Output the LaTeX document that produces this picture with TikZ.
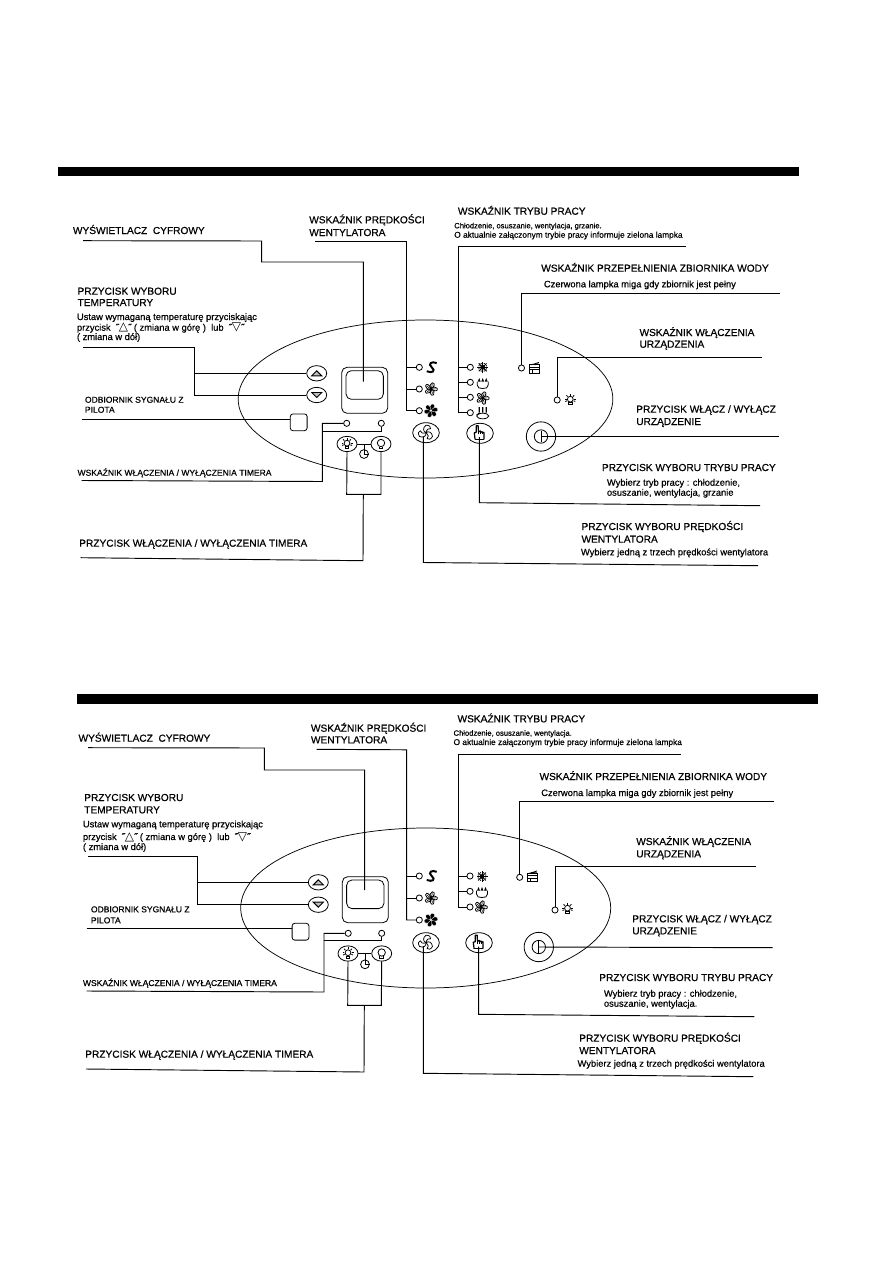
\documentclass[tikz,border=0pt]{standalone}
\usetikzlibrary{shapes.geometric}
\usepackage{fontspec}
\setmainfont{Liberation Sans}[FakeBold=0.5]
\newfontfamily\symf{DejaVu Sans}
\newcommand{\tup}{{\symf\fontsize{9pt}{9pt}\selectfont △}}
\newcommand{\tdn}{{\symf\fontsize{9pt}{9pt}\selectfont ▽}}
\tikzset{
  lg/.style={anchor=base west,inner sep=0pt,font=\fontsize{7.6pt}{9pt}\selectfont},
  md/.style={anchor=base west,inner sep=0pt,font=\fontsize{6.4pt}{8pt}\selectfont},
  sm/.style={anchor=base west,inner sep=0pt,font=\fontsize{7pt}{8pt}\selectfont},
  ti/.style={anchor=base west,inner sep=0pt,font=\fontsize{6.25pt}{7pt}\selectfont},
  tb/.style={anchor=base west,inner sep=0pt,font=\fontsize{5.7pt}{7pt}\selectfont},
  wire/.style={line width=0.7pt,line join=miter},
  led/.style={circle,draw,line width=0.6pt,inner sep=0pt,minimum size=4.6pt},
  btn/.style={ellipse,draw,line width=0.6pt,inner sep=0pt,minimum width=15pt,minimum height=11.5pt},
  bigbtn/.style={ellipse,draw,line width=0.6pt,inner sep=0pt,minimum width=20pt,minimum height=15pt},
  panel/.style={ellipse,draw,line width=0.55pt,inner sep=0pt},
  bar/.style={fill=black,inner sep=0pt},
  screen/.style={rectangle,draw,line width=0.6pt,rounded corners=4pt,inner sep=0pt},
  pw/.style={circle,draw,line width=0.6pt,inner sep=0pt,minimum size=22pt},
  pwin/.style={circle,draw,line width=0.6pt,inner sep=0pt,minimum size=10pt},
  clock/.style={circle,draw,line width=0.6pt,inner sep=0pt,minimum size=6.6pt},
  fanAico/.pic={
    \draw[line width=1.5pt] (5,-4.2) .. controls (0,-6.5) and (-4.2,-3.5) .. (0,0)
       .. controls (4.2,3.5) and (1,6.2) .. (-5,4);
  },
  fanBico/.pic={
    \foreach \a in {0,72,144,216,288}{
      \draw[line width=0.6pt,rotate=\a,scale=0.88] (0,0) .. controls (-1.8,-3) and (-1.2,-6.5) .. (1.5,-7)
        .. controls (4.8,-7) and (4.5,-3) .. cycle;
      \draw[line width=0.45pt,rotate=\a,scale=0.88] (0.3,-1) -- (1.6,-5.2);
    }
  },
  fanCico/.pic={
    \foreach \a in {0,60,120,180,240,300}{
      \filldraw[fill=black,draw=white,line width=0.2pt,rotate=\a,scale=0.92] (0,0) .. controls (-2,-3) and (-1.2,-7) .. (1.5,-7.3)
        .. controls (5,-7.3) and (4.8,-3) .. cycle;
    }
    \fill[white] (0,0) circle (0.8);
  },
  snowico/.pic={
    \foreach \a in {0,45,90,135}{\draw[line width=0.75pt,rotate=\a] (-5.5,0) -- (5.5,0);}
    \fill (0,0) circle (2.4);
    \foreach \a in {22,67,112,157,202,247,292,337}{\fill[rotate=\a] (4,0) circle (0.7);}
  },
  dropico/.pic={
    \draw[line width=0.6pt] (-5.5,-1.5) -- (-5.5,2) .. controls (-5.5,5) and (-3,5.5) .. (0,5.5)
      .. controls (3,5.5) and (5.5,5) .. (5.5,2) -- (5.5,-1.5);
    \foreach \d in {-3.5,0,3.5}{\fill (\d-1.4,-1.5) -- (\d,-5) -- (\d+1.4,-1.5) -- cycle;}
  },
  heatico/.pic={
    \foreach \d in {-3.5,0,3.5}{
      \draw[line width=0.85pt] (\d,-6) .. controls (\d+1.5,-4.5) and (\d-1.5,-3) .. (\d,-0.5);}
    \draw[line width=0.6pt] (0,3) ellipse (6 and 2.8);
    \draw[line width=0.6pt] (-6,2) .. controls (-4,0) .. (-3,1);
  },
  tankico/.pic={
    \draw[line width=0.65pt] (-5,-3.2) rectangle (5,5);
    \draw[line width=0.6pt] (-5,-0.8) -- (5,-0.8) (-5,1.8) -- (5,1.8);
    \draw[line width=0.6pt] (-2,1.8) -- (-2,5);
    \draw[line width=0.6pt] (-3,-3.2) .. controls (0,-3.6) and (2,-4.8) .. (5,-5.6)
      (0,-3.2) .. controls (2,-3.6) and (3,-4) .. (5,-3.8);
  },
  bulbico/.pic={
    \draw[line width=0.6pt] (0,-0.8) circle (2.9);
    \draw[line width=0.7pt] (-1.7,2.6) -- (1.7,2.6) -- (1.7,4.8) -- (-1.7,4.8) -- cycle;
    \foreach \a in {-90,-45,0,180,225,25,155}{
      \draw[line width=0.6pt] (0,-0.8) ++(\a:3.7) -- ++(\a:1.8);}
  },
  plainbulb/.pic={
    \draw[line width=0.6pt] (0,-1) circle (3.7);
    \draw[line width=0.7pt] (-1.8,2.6) -- (-1.8,4.6) -- (1.8,4.6) -- (1.8,2.6);
  },
  uptri/.pic={
    \draw[line width=0.7pt,fill=black!25] (-5,2.5) -- (0,-2.5) -- (5,2.5) -- cycle;
  },
  dntri/.pic={
    \draw[line width=0.7pt,fill=black!25] (-5,-2.5) -- (5,-2.5) -- (0,2.5) -- cycle;
  },
  swirl/.pic={
    \foreach \a in {0,120,240}{
      \draw[line width=0.55pt,rotate=\a] (0,0) .. controls (-3,-1) and (-3.5,-5) .. (0,-7.5)
        .. controls (3.5,-7.5) and (5,-6) .. (4.5,-4) .. controls (2.5,-5) and (0.5,-3) .. (0,0);
    }
  },
  handico/.pic={
    \begin{scope}[xscale=1.3,xshift=-1.2]
    \draw[line width=0.9pt,line join=round] (-2.2,6) -- (-2.8,-0.5) -- (-1.3,-1) -- (-1.3,-7.5)
       -- (0.2,-7.5) -- (0.4,-1.5) -- (1.8,-2.3) -- (2,-1) -- (3.2,-1.7) -- (3.4,-0.5) -- (4.6,-1) -- (4.7,6);
    \draw[line width=0.6pt] (0.4,-1.5) -- (0.4,1) (2,-1) -- (2,1) (3.4,-0.5) -- (3.4,1);
    \draw[line width=0.8pt] (-2.2,6) -- (4.7,6);
    \end{scope}
  },
}
\begin{document}
\begin{tikzpicture}[x=0.75pt,y=-0.75pt]
\useasboundingbox (0,0) rectangle (893,1263);

% ===== Panel 1 =====
\node[bar,minimum width=555.75pt,minimum height=7pt] (aBar) at (428.5,171.5) {};
\node[panel,minimum width=281pt,minimum height=118.5pt] (aEll) at (425.5,399) {};

\node[lg] (aT1) at (72.7,234) {WYŚWIETLACZ\ \ CYFROWY};
\node[lg] (aT2) at (309,223.3) {WSKAŹNIK PRĘDKOŚCI};
\node[lg] (aT3) at (309,236) {WENTYLATORA};
\node[lg] (aT4) at (457.7,214.7) {WSKAŹNIK TRYBU PRACY};
\node[tb] (aT5) at (454,228.3) {Chłodzenie, osuszanie, wentylacja, grzanie.};
\node[ti] (aT6) at (454,237.7) {O aktualnie załączonym trybie pracy informuje zielona lampka};
\node[lg] (aT7) at (541,271.7) {WSKAŹNIK PRZEPEŁNIENIA ZBIORNIKA WODY};
\node[sm] (aT8) at (543.7,287.3) {Czerwona lampka miga gdy zbiornik jest pełny};
\node[lg] (aT9) at (639.3,336) {WSKAŹNIK WŁĄCZENIA};
\node[lg] (aT10) at (639.3,347.7) {URZĄDZENIA};
\node[lg] (aT11) at (77.3,294.7) {PRZYCISK WYBORU};
\node[lg] (aT12) at (77.3,306) {TEMPERATURY};
\node[sm] (aT13) at (76.7,320) {Ustaw wymaganą temperaturę przyciskając};
\node[sm] (aT14) at (76.7,330.7) {przycisk\ \ ˝\tup˝ ( zmiana w górę )\ \ lub\ \ ˝\tdn˝};
\node[sm] (aT15) at (76.7,340) {( zmiana w dół)};
\node[md] (aT16) at (84.7,402.7) {ODBIORNIK SYGNAŁU Z};
\node[md] (aT17) at (84.7,412.7) {PILOTA};
\node[md] (aT18) at (77.3,475.7) {WSKAŹNIK WŁĄCZENIA / WYŁĄCZENIA TIMERA};
\node[lg] (aT19) at (79,546.7) {PRZYCISK WŁĄCZENIA / WYŁĄCZENIA TIMERA};
\node[lg] (aT20) at (636,412.7) {PRZYCISK WŁĄCZ / WYŁĄCZ};
\node[lg] (aT21) at (636,425) {URZĄDZENIE};
\node[lg] (aT22) at (601.7,471) {PRZYCISK WYBORU TRYBU PRACY};
\node[sm] (aT23) at (606.7,485.7) {Wybierz tryb pracy : chłodzenie,};
\node[sm] (aT24) at (606.7,495.7) {osuszanie, wentylacja, grzanie};
\node[lg] (aT25) at (581.3,530) {PRZYCISK WYBORU PRĘDKOŚCI};
\node[lg] (aT26) at (581.3,542.7) {WENTYLATORA};
\node[sm] (aT27) at (580.7,555.3) {Wybierz jedną z trzech prędkości wentylatora};

\node[btn] (aUp) at (316.7,373.3) {};
\node[btn] (aDn) at (316.7,395) {};
\pic at (316.7,373.3) {uptri};
\pic at (316.7,395) {dntri};
\node[screen,minimum size=34.5pt] (aDisp) at (364.7,390.3) {};
\node[screen,minimum width=28pt,minimum height=21.5pt] (aDin) at (364.7,385) {};
\node[rectangle,draw,line width=0.6pt,rounded corners=2pt,inner sep=0pt,minimum size=12.6pt] (aRx) at (298.7,422.3) {};

\node[led] (aS1) at (419.3,367.3) {};
\node[led] (aS2) at (419.3,389) {};
\node[led] (aS3) at (419.3,410.7) {};
\pic at (431.7,367.3) {fanAico};
\pic at (431,389) {fanBico};
\pic at (431,410.7) {fanCico};

\node[led] (aM1) at (470.3,367.3) {};
\node[led] (aM2) at (470.3,382.3) {};
\node[led] (aM3) at (470.3,397.3) {};
\node[led] (aM4) at (470.3,412.7) {};
\pic at (482.7,367.3) {snowico};
\pic at (482.7,383) {dropico};
\pic at (482.7,398) {fanBico};
\pic at (482.7,413) {heatico};

\node[led] (aTank) at (521.5,368) {};
\pic at (534,368) {tankico};
\node[led] (aPL) at (557.2,400) {};
\pic at (570.3,400) {bulbico};

\node[led] (aL1) at (346.7,423.3) {};
\node[led] (aL2) at (381.3,423.3) {};
\node[btn] (aB1) at (347,444) {};
\node[btn] (aB2) at (381,444) {};
\pic at (347,444) {bulbico};
\pic at (381,444) {plainbulb};
\node[clock] (aCl) at (364,454) {};
\draw[line width=0.6pt] (aCl.center) -- (aCl.east) (aCl.center) -- (aCl.north);
\coordinate (aClTop) at (aB1.east -| aCl.north);

\node[bigbtn] (aFan) at (426,432.7) {};
\pic at (426,432.7) {swirl};
\node[bigbtn] (aMode) at (480,433.3) {};
\pic at (480,433.3) {handico};
\node[pw] (aP) at (541,436.5) {};
\node[pwin] (aPin) at (541,436.5) {};
\draw[line width=0.6pt] ([yshift=-4.2pt]aP.center) -- ([yshift=4.2pt]aP.center);

\coordinate (aW1a) at (83,240.7);  \coordinate (aW1b) at (261.7,241);
\coordinate (aW1c) at (261.7,262); \coordinate (aW1d) at (363.3,262);
\coordinate (aW1e) at (363.3,381.7);
\draw[wire] (aW1a) -- (aW1b) -- (aW1c) -- (aW1d) -- (aW1e);
\coordinate (aW2a) at (315,241); \coordinate (aW2b) at (406.7,241);
\draw[wire] (aW2a) -- (aW2b) |- (aS3.west);
\draw[wire] (aS1.west) -- (aS1.west -| aW2b);
\draw[wire] (aS2.west) -- (aS2.west -| aW2b);
\coordinate (aW3a) at (685.7,246.7); \coordinate (aW3b) at (458,246.7);
\draw[wire] (aW3a) -- (aW3b) |- (aM4.west);
\draw[wire] (aM1.west) -- (aM1.west -| aW3b);
\draw[wire] (aM2.west) -- (aM2.west -| aW3b);
\draw[wire] (aM3.west) -- (aM3.west -| aW3b);
\coordinate (aW4a) at (780,293); \coordinate (aW4b) at (aTank.north |- aW4a);
\draw[wire] (aW4a) -- (aW4b) -- (aTank.north);
\coordinate (aW5a) at (761.7,357); \coordinate (aW5b) at (aPL.north |- aW5a);
\draw[wire] (aW5a) -- (aW5b) -- (aPL.north);
\coordinate (aW6a) at (83,347.7); \coordinate (aW6b) at (194.3,347.7);
\draw[wire] (aW6a) -- (aW6b) |- (aDn.west);
\draw[wire] (aUp.west) -- (aUp.west -| aW6b);
\coordinate (aW7a) at (81.7,419);
\draw[wire] (aW7a) -- (aRx.west |- aW7a);
\coordinate (aW8a) at (81.7,480.5); \coordinate (aW8b) at (322.3,481.5);
\draw[wire] (aW8a) -- (aW8b) |- (aL1.west);
\coordinate (aW8c) at (322.3,431);
\draw[wire] (aW8c) -| (aL2.south);
\coordinate (aW9a) at (346.7,494.3); \coordinate (aW9b) at (381,494.3);
\draw[wire] (aB1.south) -- (aW9a) -- (aW9b) -- (aB2.south);
\coordinate (aW9c) at (363.3,494.3); \coordinate (aW9d) at (363,560.7); \coordinate (aW9e) at (80.7,557.7);
\draw[wire] (aW9c) -- (aW9d) -- (aW9e);
\draw[wire] (aB1.east) -- (aB2.west);
\draw[wire] (aClTop) -- (aCl.north);
\coordinate (aW10a) at (423.3,436.5); \coordinate (aW10b) at (423.3,562.5); \coordinate (aW10c) at (758,565.7);
\draw[wire] (aW10a) -- (aW10b) -- (aW10c);
\coordinate (aW11a) at (479.3,437); \coordinate (aW11b) at (479.3,502.7); \coordinate (aW11c) at (760,505.7);
\draw[wire] (aW11a) -- (aW11b) -- (aW11c);
\coordinate (aW12a) at (779,436.5);
\draw[wire] (aP.center) -- (aW12a);

% ===== Panel 2 =====
\node[bar,minimum width=555.75pt,minimum height=7.5pt] (bBar) at (447.5,699) {};
\node[panel,minimum width=277.5pt,minimum height=120pt] (bEll) at (425.7,908) {};

\node[lg] (bT1) at (78.3,741.7) {WYŚWIETLACZ\ \ CYFROWY};
\node[lg] (bT2) at (310.7,731.7) {WSKAŹNIK PRĘDKOŚCI};
\node[lg] (bT3) at (310.7,743.3) {WENTYLATORA};
\node[lg] (bT4) at (457.3,722.3) {WSKAŹNIK TRYBU PRACY};
\node[tb] (bT5) at (453.3,735.7) {Chłodzenie, osuszanie, wentylacja.};
\node[ti] (bT6) at (453.3,745) {O aktualnie załączonym trybie pracy informuje zielona lampka};
\node[lg] (bT7) at (539.3,780) {WSKAŹNIK PRZEPEŁNIENIA ZBIORNIKA WODY};
\node[sm] (bT8) at (541,796) {Czerwona lampka miga gdy zbiornik jest pełny};
\node[lg] (bT9) at (636,845) {WSKAŹNIK WŁĄCZENIA};
\node[lg] (bT10) at (636,857.3) {URZĄDZENIA};
\node[lg] (bT11) at (84,801) {PRZYCISK WYBORU};
\node[lg] (bT12) at (84,813.3) {TEMPERATURY};
\node[sm] (bT13) at (82.7,827.3) {Ustaw wymaganą temperaturę przyciskając};
\node[sm] (bT14) at (82.7,840) {przycisk\ \ ˝\tup˝ ( zmiana w górę )\ \ lub\ \ ˝\tdn˝};
\node[sm] (bT15) at (82.7,850) {( zmiana w dół)};
\node[md] (bT16) at (90.7,912.3) {ODBIORNIK SYGNAŁU Z};
\node[md] (bT17) at (90.7,923.3) {PILOTA};
\node[md] (bT18) at (82.7,986) {WSKAŹNIK WŁĄCZENIA / WYŁĄCZENIA TIMERA};
\node[lg] (bT19) at (85,1057.7) {PRZYCISK WŁĄCZENIA / WYŁĄCZENIA TIMERA};
\node[lg] (bT20) at (632,922.3) {PRZYCISK WŁĄCZ / WYŁĄCZ};
\node[lg] (bT21) at (632,934.3) {URZĄDZENIE};
\node[lg] (bT22) at (599,981) {PRZYCISK WYBORU TRYBU PRACY};
\node[sm] (bT23) at (603.7,996.7) {Wybierz tryb pracy : chłodzenie,};
\node[sm] (bT24) at (603.7,1006.7) {osuszanie, wentylacja.};
\node[lg] (bT25) at (579,1041.7) {PRZYCISK WYBORU PRĘDKOŚCI};
\node[lg] (bT26) at (579,1054) {WENTYLATORA};
\node[sm] (bT27) at (577.3,1066.7) {Wybierz jedną z trzech prędkości wentylatora};

\node[btn] (bUp) at (318.3,882.3) {};
\node[btn] (bDn) at (318.3,904.7) {};
\pic at (318.3,882.3) {uptri};
\pic at (318.3,904.7) {dntri};
\node[screen,minimum size=34.5pt] (bDisp) at (365.3,899.7) {};
\node[screen,minimum width=28pt,minimum height=21.5pt] (bDin) at (365.3,894.3) {};
\node[rectangle,draw,line width=0.6pt,rounded corners=2pt,inner sep=0pt,minimum size=12.6pt] (bRx) at (300.5,931.7) {};

\node[led] (bS1) at (419.3,876) {};
\node[led] (bS2) at (419.3,898) {};
\node[led] (bS3) at (419.3,920) {};
\pic at (431.7,876) {fanAico};
\pic at (431,898) {fanBico};
\pic at (431,920) {fanCico};

\node[led] (bM1) at (470,876) {};
\node[led] (bM2) at (470,891.3) {};
\node[led] (bM3) at (470,907) {};
\pic at (482,876.5) {snowico};
\pic at (482,892) {dropico};
\pic at (481,907) {fanBico};

\node[led] (bTank) at (519.7,877.3) {};
\pic at (532,876.5) {tankico};
\node[led] (bPL) at (555,910) {};
\pic at (567.5,909) {bulbico};

\node[led] (bL1) at (348.2,933.3) {};
\node[led] (bL2) at (381.7,933.3) {};
\node[btn] (bB1) at (348,953.5) {};
\node[btn] (bB2) at (381.7,953.5) {};
\pic at (348,953.5) {bulbico};
\pic at (381.7,953.5) {plainbulb};
\node[clock] (bCl) at (365,964.3) {};
\draw[line width=0.6pt] (bCl.center) -- (bCl.east) (bCl.center) -- (bCl.north);
\coordinate (bClTop) at (bB1.east -| bCl.north);

\node[bigbtn] (bFan) at (426,942.7) {};
\pic at (426,942.7) {swirl};
\node[bigbtn] (bMode) at (479,942.7) {};
\pic at (479,942.7) {handico};
\node[pw] (bP) at (538.8,947) {};
\node[pwin] (bPin) at (538.8,947) {};
\draw[line width=0.6pt] ([yshift=-4.2pt]bP.center) -- ([yshift=4.2pt]bP.center);

\coordinate (bW1a) at (88,747.7);  \coordinate (bW1b) at (264.3,748);
\coordinate (bW1c) at (264.3,770); \coordinate (bW1d) at (364.7,770);
\coordinate (bW1e) at (364.7,890);
\draw[wire] (bW1a) -- (bW1b) -- (bW1c) -- (bW1d) -- (bW1e);
\coordinate (bW2a) at (316.7,749.3); \coordinate (bW2b) at (406.7,749.8);
\draw[wire] (bW2a) -- (bW2b) |- (bS3.west);
\draw[wire] (bS1.west) -- (bS1.west -| bW2b);
\draw[wire] (bS2.west) -- (bS2.west -| bW2b);
\coordinate (bW3a) at (680.7,754.3); \coordinate (bW3b) at (458.3,754.3);
\draw[wire] (bW3a) -- (bW3b) |- (bM3.west);
\draw[wire] (bM1.west) -- (bM1.west -| bW3b);
\draw[wire] (bM2.west) -- (bM2.west -| bW3b);
\coordinate (bW4a) at (774.3,801.7); \coordinate (bW4b) at (bTank.north |- bW4a);
\draw[wire] (bW4a) -- (bW4b) -- (bTank.north);
\coordinate (bW5a) at (756,866); \coordinate (bW5b) at (bPL.north |- bW5a);
\draw[wire] (bW5a) -- (bW5b) -- (bPL.north);
\coordinate (bW6a) at (88,856.7); \coordinate (bW6b) at (197.7,856.7);
\draw[wire] (bW6a) -- (bW6b) |- (bDn.west);
\draw[wire] (bUp.west) -- (bUp.west -| bW6b);
\coordinate (bW7a) at (86.7,928.3);
\draw[wire] (bW7a) -- (bRx.west |- bW7a);
\coordinate (bW8a) at (86.7,991); \coordinate (bW8b) at (324,992);
\draw[wire] (bW8a) -- (bW8b) |- (bL1.west);
\coordinate (bW8c) at (324,940);
\draw[wire] (bW8c) -| (bL2.south);
\coordinate (bW9a) at (347.7,1005.3); \coordinate (bW9b) at (381.3,1005.3);
\draw[wire] (bB1.south) -- (bW9a) -- (bW9b) -- (bB2.south);
\coordinate (bW9c) at (364.3,1005.3); \coordinate (bW9d) at (364,1072); \coordinate (bW9e) at (86,1069);
\draw[wire] (bW9c) -- (bW9d) -- (bW9e);
\draw[wire] (bB1.east) -- (bB2.west);
\draw[wire] (bClTop) -- (bCl.north);
\coordinate (bW10a) at (423.3,946); \coordinate (bW10b) at (423.3,1073.3); \coordinate (bW10c) at (753.3,1076.7);
\draw[wire] (bW10a) -- (bW10b) -- (bW10c);
\coordinate (bW11a) at (478.7,946.5); \coordinate (bW11b) at (478.7,1014.3); \coordinate (bW11c) at (754.3,1016.7);
\draw[wire] (bW11a) -- (bW11b) -- (bW11c);
\coordinate (bW12a) at (772.7,947.7);
\draw[wire] (bP.center) -- (bW12a);
\end{tikzpicture}
\end{document}
